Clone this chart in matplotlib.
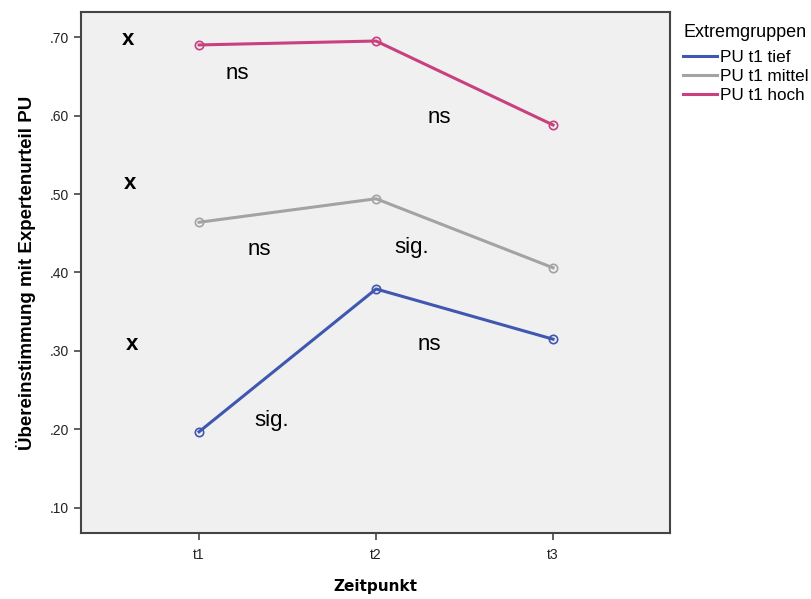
import matplotlib
matplotlib.use('Agg')
import matplotlib.pyplot as plt
from matplotlib.lines import Line2D

plt.rcParams['font.family'] = ['Liberation Sans', 'DejaVu Sans']

# Data
zeitpunkte = ['t1', 't2', 't3']
x_pos = [1, 2, 3]
pu_tief = [0.197, 0.379, 0.315]
pu_mittel = [0.464, 0.494, 0.406]
pu_hoch = [0.690, 0.695, 0.588]
series_names = ['PU t1 tief', 'PU t1 mittel', 'PU t1 hoch']
series_colors = ['#3f57b0', '#a3a3a3', '#c8407f']

y_ticks = [0.10, 0.20, 0.30, 0.40, 0.50, 0.60, 0.70]
y_ticklabels = ['.10', '.20', '.30', '.40', '.50', '.60', '.70']

# Annotations (x, y, text, bold)
notes = [
    (0.60, 0.697, 'x', True),
    (0.61, 0.514, 'x', True),
    (0.62, 0.308, 'x', True),
    (1.215, 0.653, 'ns', False),
    (2.36, 0.598, 'ns', False),
    (1.34, 0.429, 'ns', False),
    (2.20, 0.432, 'sig.', False),
    (2.30, 0.308, 'ns', False),
    (1.41, 0.212, 'sig.', False),
]

fig = plt.figure(figsize=(8.11, 5.99), dpi=100, facecolor='white')
ax = fig.add_axes([0.0999, 0.1102, 0.7263, 0.8698])
ax.set_facecolor('#f0f0f0')

for vals, name, col in zip([pu_tief, pu_mittel, pu_hoch], series_names, series_colors):
    ax.plot(x_pos, vals, color=col, lw=2.2, label=name, marker='o',
            markersize=6, markerfacecolor='none', markeredgecolor=col, markeredgewidth=1.2)

for x, y, t, b in notes:
    ax.text(x, y, t, fontsize=16, fontweight='bold' if b else 'normal',
            ha='center', va='center', color='black')

ax.set_xlim(0.333, 3.661)
ax.set_ylim(0.068, 0.732)
ax.set_xticks(x_pos)
ax.set_xticklabels(zeitpunkte, fontsize=10, color='#222222')
ax.set_yticks(y_ticks)
ax.set_yticklabels(y_ticklabels, fontsize=10, color='#222222')
ax.tick_params(direction='out', length=5, width=1.2, color='#444444')
ax.tick_params(axis='x', pad=6)

for sp in ax.spines.values():
    sp.set_color('#444444')
    sp.set_linewidth(1.5)

ax.set_xlabel('Zeitpunkt', fontsize=11, fontweight='bold', family='DejaVu Sans', labelpad=12)
ax.set_ylabel('Übereinstimmung mit Expertenurteil PU', fontsize=13.5, fontweight='bold', labelpad=10)

handles = [Line2D([], [], color=c, lw=2.2) for c in series_colors]
leg = fig.legend(handles, series_names, loc='upper left', bbox_to_anchor=(0.834, 0.972), frameon=False,
                 title='Extremgruppen', fontsize=12.3, title_fontsize=13,
                 handlelength=2.0, handletextpad=0.15, labelspacing=0.22, borderaxespad=0)
leg._legend_box.align = 'left'
leg._legend_box.sep = 7

fig.savefig('out.png', dpi=100)
